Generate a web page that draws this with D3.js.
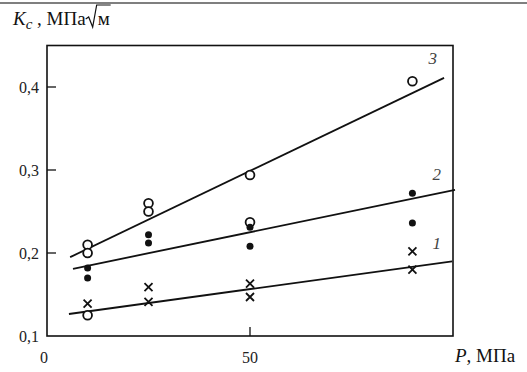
<!DOCTYPE html>
<html>
<head>
<meta charset="utf-8">
<script src="https://cdn.jsdelivr.net/npm/d3@7"></script>
</head>
<body style="margin:0;background:#fff">
<svg id="canvas" width="527" height="372" style="display:block"></svg>
<script>
// points
const circleP = [10, 10, 10, 25, 25, 50, 50, 90];
const circleK = [0.21, 0.20, 0.125, 0.26, 0.25, 0.294, 0.237, 0.407];
const dotP = [10, 10, 25, 25, 50, 50, 90, 90];
const dotK = [0.182, 0.17, 0.222, 0.212, 0.231, 0.208, 0.272, 0.236];
const crossP = [10, 25, 25, 50, 50, 90, 90];
const crossK = [0.139, 0.159, 0.141, 0.163, 0.147, 0.202, 0.18];
// fitted lines: [P start, K start, P end, K end]
const lineNames = ["1", "2", "3"];
const lineEnds = [[5.4, 0.1265, 99.8, 0.190], [6.4, 0.181, 100.5, 0.276], [5.7, 0.195, 97.8, 0.411]];
const yTicks = [0.1, 0.2, 0.3, 0.4];
const xTicks = [0, 50];

let svg = d3.select("#canvas");
const serif = "Liberation Serif";

let x = d3.scaleLinear().domain([0, 100]).range([47, 453]);
let y = d3.scaleLinear().domain([0.1, 0.45]).range([336, 45.5]);

// top rule across the image
svg.append("line").attr("x1", 0).attr("x2", 527).attr("y1", 3).attr("y2", 3)
   .attr("stroke", "#555").attr("stroke-width", 1.5);

// frame
svg.append("rect").attr("x", x(0)).attr("y", y(0.45))
   .attr("width", x(100) - x(0)).attr("height", y(0.1) - y(0.45))
   .attr("fill", "none").attr("stroke", "#111").attr("stroke-width", 1.6);

// y ticks inward
svg.selectAll(".yt").data(yTicks.slice(1)).join("line")
   .attr("x1", x(0)).attr("x2", x(0) + 9).attr("y1", d => y(d)).attr("y2", d => y(d))
   .attr("stroke", "#111").attr("stroke-width", 1.3);
svg.selectAll(".yl").data(yTicks).join("text")
   .attr("x", 39).attr("y", d => y(d) + 6).attr("text-anchor", "end")
   .attr("font-family", serif).style("font-family", serif)
   .attr("font-size", 16).attr("fill", "#222")
   .text(d => d3.format(".1f")(d).replace(".", ","));

// x ticks
svg.selectAll(".xt").data([50]).join("line")
   .attr("x1", d => x(d)).attr("x2", d => x(d)).attr("y1", y(0.1)).attr("y2", y(0.1) - 9)
   .attr("stroke", "#111").attr("stroke-width", 1.3);
svg.selectAll(".xl").data(xTicks).join("text")
   .attr("x", d => x(d) - (d == 0 ? 3 : 0)).attr("y", 363).attr("text-anchor", "middle")
   .attr("font-family", serif).style("font-family", serif)
   .attr("font-size", 16).attr("fill", "#222").text(d => d);

// axis titles
let yt = svg.append("text").attr("x", 13).attr("y", 25).attr("font-size", 19).attr("fill", "#111")
   .attr("font-family", serif).style("font-family", serif);
yt.append("tspan").attr("font-style", "italic").text("K");
yt.append("tspan").attr("font-style", "italic").attr("font-size", 15).attr("dy", 4).text("c");
yt.append("tspan").attr("dy", -4).text(" , МПа");
let tw = 13 + yt.node().getComputedTextLength();
svg.append("path").attr("d", `M${tw},19 L${tw + 3},17 L${tw + 7},27 L${tw + 11},5 L${tw + 25},5`)
   .attr("fill", "none").attr("stroke", "#111").attr("stroke-width", 1.2);
svg.append("text").attr("x", tw + 12).attr("y", 25).attr("font-size", 19).attr("fill", "#111")
   .attr("font-family", serif).style("font-family", serif).text("м");

let xt = svg.append("text").attr("x", 455).attr("y", 362).attr("font-size", 19).attr("fill", "#111")
   .attr("font-family", serif).style("font-family", serif);
xt.append("tspan").attr("font-style", "italic").text("P");
xt.append("tspan").text(", МПа");

// fitted lines
svg.selectAll(".fit").data(lineEnds).join("line")
   .attr("x1", d => x(d[0])).attr("y1", d => y(d[1]))
   .attr("x2", d => x(d[2])).attr("y2", d => y(d[3]))
   .attr("stroke", "#111").attr("stroke-width", 1.8);
const labelPos = [[96, 0.205], [96, 0.288], [95, 0.428]];
svg.selectAll(".lbl").data(lineNames).join("text")
   .attr("x", (d, i) => x(labelPos[i][0])).attr("y", (d, i) => y(labelPos[i][1]))
   .attr("text-anchor", "middle").attr("font-style", "italic")
   .attr("font-family", serif).style("font-family", serif)
   .attr("font-size", 17).attr("fill", "#444").text(d => d);

// open circles
svg.selectAll(".oc").data(circleP).join("circle")
   .attr("cx", d => x(d)).attr("cy", (d, i) => y(circleK[i])).attr("r", 4.4)
   .attr("fill", "#fff").attr("stroke", "#111").attr("stroke-width", 1.8);
// filled dots
svg.selectAll(".fd").data(dotP).join("circle")
   .attr("cx", d => x(d)).attr("cy", (d, i) => y(dotK[i])).attr("r", 3.5).attr("fill", "#111");
// crosses
svg.selectAll(".cr").data(crossP).join("path")
   .attr("d", (d, i) => {
     let cx = x(d), cy = y(crossK[i]), s = 4;
     return `M${cx - s},${cy - s}L${cx + s},${cy + s}M${cx + s},${cy - s}L${cx - s},${cy + s}`;
   })
   .attr("stroke", "#111").attr("stroke-width", 1.8).attr("fill", "none");
</script>
</body>
</html>
